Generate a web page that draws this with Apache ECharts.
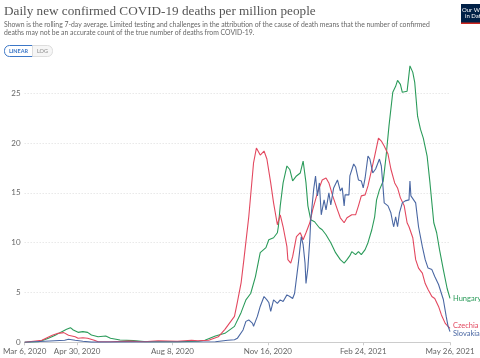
<!DOCTYPE html>
<html>
<head>
<meta charset="utf-8">
<script src="https://cdn.jsdelivr.net/npm/echarts@6/dist/echarts.min.js"></script>
<style>
html,body{margin:0;padding:0;background:#fff;}
#chart{width:480px;height:358px;}
</style>
</head>
<body>
<div id="chart"></div>
<script>
// Days since Mar 6, 2020
var xTickDays = [0, 55, 155, 255, 355, 446];
var xTickLabels = ['Mar 6, 2020', 'Apr 30, 2020', 'Aug 8, 2020', 'Nov 16, 2020', 'Feb 24, 2021', 'May 26, 2021'];
var yTicks = [0, 5, 10, 15, 20, 25];

var czechiaDays = [0, 18, 29, 35, 41, 46, 53, 56, 61, 66, 73, 77, 90, 110, 125, 140, 160, 175, 182, 193, 203, 210, 220, 223, 227, 230, 235, 240, 243, 247, 251, 254, 258, 261, 265, 268, 271, 275, 276, 279, 281, 285, 289, 292, 295, 299, 302, 307, 312, 316, 319, 323, 328, 331, 335, 338, 343, 347, 350, 353, 357, 360, 364, 367, 371, 374, 377, 381, 384, 388, 391, 394, 398, 401, 403, 405, 407, 410, 413, 417, 420, 423, 427, 430, 434, 437, 441, 446];
var czechiaVals = [0, 0.2, 0.7, 0.9, 0.97, 0.7, 0.55, 0.4, 0.45, 0.4, 0.2, 0.05, 0.05, 0.12, 0.05, 0.15, 0.1, 0.2, 0.15, 0.2, 0.55, 1.3, 2.6, 4.0, 6.0, 8.4, 12.6, 18.0, 19.5, 18.8, 19.2, 18.4, 16.0, 14.0, 11.8, 12.8, 11.6, 9.6, 8.3, 7.95, 8.6, 10.6, 11.0, 10.3, 11.0, 12.0, 13.3, 15.0, 16.3, 16.5, 16.0, 14.7, 13.3, 12.5, 12.0, 12.5, 12.8, 12.8, 13.7, 14.7, 14.8, 15.7, 17.4, 18.7, 20.5, 20.2, 19.7, 18.9, 17.4, 16.0, 15.5, 14.5, 13.7, 12.0, 11.6, 11.5, 10.5, 8.3, 7.45, 6.95, 5.9, 5.3, 4.6, 4.4, 3.6, 2.75, 1.9, 1.4];

var hungaryDays = [0, 15, 25, 32, 39, 44, 48, 51, 56, 61, 66, 70, 77, 85, 90, 100, 114, 128, 160, 182, 189, 200, 210, 220, 227, 232, 237, 242, 247, 253, 256, 261, 265, 266, 268, 271, 275, 278, 281, 285, 289, 292, 295, 297, 300, 304, 309, 312, 316, 321, 326, 331, 335, 338, 341, 343, 347, 350, 353, 357, 360, 364, 367, 369, 372, 376, 379, 382, 386, 389, 391, 394, 396, 398, 401, 404, 407, 409, 412, 415, 418, 422, 425, 429, 432, 435, 439, 443, 446];
var hungaryVals = [0, 0.05, 0.4, 0.7, 1.07, 1.3, 1.47, 1.24, 1.0, 1.07, 1.0, 0.73, 0.56, 0.63, 0.4, 0.23, 0.17, 0.05, 0.05, 0.1, 0.2, 0.63, 0.9, 1.6, 3.0, 4.26, 4.9, 6.6, 9.0, 9.5, 10.3, 10.5, 11.0, 11.6, 13.7, 16.0, 17.7, 17.35, 16.2, 16.7, 17.0, 18.2, 16.0, 13.7, 12.3, 12.1, 11.5, 11.3, 10.8, 10.0, 9.0, 8.3, 7.95, 8.3, 8.7, 9.1, 8.8, 9.1, 8.8, 9.3, 10.0, 11.3, 12.6, 14.3, 15.3, 16.2, 18.7, 21.7, 25.1, 25.7, 26.3, 25.9, 25.1, 24.9, 25.2, 27.75, 27.1, 26.1, 22.7, 21.4, 20.5, 18.7, 16.0, 12.0, 11.0, 9.3, 7.3, 5.4, 4.4];

var slovakiaDays = [0, 42, 46, 53, 61, 70, 200, 213, 220, 223, 229, 232, 235, 239, 240, 244, 247, 251, 254, 256, 258, 261, 265, 268, 271, 275, 278, 281, 283, 287, 290, 292, 294, 295, 297, 299, 300, 303, 305, 307, 309, 311, 314, 316, 319, 321, 324, 328, 331, 333, 335, 336, 340, 341, 345, 347, 350, 353, 355, 357, 360, 362, 365, 368, 372, 374, 376, 377, 381, 384, 386, 387, 389, 391, 393, 396, 399, 401, 403, 404, 405, 407, 410, 413, 417, 420, 423, 427, 430, 434, 435, 437, 439, 442, 444, 446];
var slovakiaVals = [0, 0.2, 0.3, 0.2, 0.1, 0.02, 0.05, 0.2, 0.25, 0.4, 1.24, 2.1, 2.25, 1.9, 1.6, 2.6, 3.6, 4.6, 4.26, 4.0, 3.1, 4.26, 3.9, 4.26, 4.1, 4.76, 4.6, 4.4, 4.9, 7.95, 10.6, 9.8, 7.95, 5.9, 7.5, 10.3, 12.3, 15.3, 16.7, 14.7, 16.0, 12.8, 14.3, 13.3, 15.0, 13.8, 15.5, 16.3, 15.2, 15.5, 13.7, 14.8, 14.8, 16.7, 17.9, 17.6, 16.3, 16.2, 15.5, 16.5, 18.7, 18.4, 17.0, 17.4, 18.4, 17.7, 15.3, 14.0, 13.7, 13.0, 12.0, 11.6, 12.6, 11.6, 13.0, 14.0, 14.2, 14.0, 14.3, 16.2, 14.7, 14.5, 14.0, 11.6, 9.6, 8.3, 7.45, 7.3, 6.6, 5.8, 5.6, 4.9, 4.3, 2.6, 1.6, 1.07];

function pairs(d, v) { return d.map(function (x, i) { return [x, v[i]]; }); }

var chart = echarts.init(document.getElementById('chart'), null, { renderer: 'canvas' });

function mkSeries(name, days, vals, color, offset) {
  return {
    name: name, type: 'line', data: pairs(days, vals), showSymbol: false, symbol: 'none',
    lineStyle: { width: 1.1, color: color }, itemStyle: { color: color },
    z: 3, animation: false,
    endLabel: {
      show: true, formatter: name, color: color, fontSize: 7.5, fontFamily: 'Lato, sans-serif',
      distance: 3, offset: offset
    }
  };
}

chart.setOption({
  animation: false,
  backgroundColor: '#fff',
  grid: { left: 15.4, right: 30, top: 63.4, bottom: 15.7, containLabel: false },
  xAxis: {
    type: 'value', min: 0, max: 446,
    axisLine: { show: true, lineStyle: { color: '#ccc', width: 1 } },
    axisTick: { show: true, length: 3, lineStyle: { color: '#ccc' }, customValues: xTickDays },
    axisLabel: {
      customValues: xTickDays, color: '#666', fontSize: 8, fontFamily: 'Lato, sans-serif', margin: 5,
      formatter: function (v) { var i = xTickDays.indexOf(v); return i >= 0 ? xTickLabels[i] : ''; }
    },
    splitLine: { show: false }
  },
  yAxis: {
    type: 'value', min: 0, max: 28, interval: 5,
    axisLine: { show: false }, axisTick: { show: false },
    axisLabel: {
      color: '#666', fontSize: 8, fontFamily: 'Lato, sans-serif', margin: 4, showMaxLabel: false,
      formatter: function (v) { return yTicks.indexOf(v) >= 0 ? String(v) : ''; }
    },
    splitLine: { show: true, showMaxLine: false, lineStyle: { color: '#ddd', type: [1, 2], width: 1 } }
  },
  series: [
    mkSeries('Hungary', hungaryDays, hungaryVals, '#2b9b5a', [0, 0]),
    mkSeries('Czechia', czechiaDays, czechiaVals, '#e3485f', [0, -3]),
    mkSeries('Slovakia', slovakiaDays, slovakiaVals, '#4a67a3', [0, 1.5])
  ],
  graphic: [
    { type: 'text', left: 4, top: 5, style: { text: 'Daily new confirmed COVID-19 deaths per million people', fill: '#555', font: '13.2px "Liberation Serif", "DejaVu Serif", serif' } },
    { type: 'text', left: 4, top: 21, style: { text: 'Shown is the rolling 7-day average. Limited testing and challenges in the attribution of the cause of death means that the number of confirmed', fill: '#666', font: '6.85px Lato, sans-serif' } },
    { type: 'text', left: 4, top: 29, style: { text: 'deaths may not be an accurate count of the true number of deaths from COVID-19.', fill: '#666', font: '6.85px Lato, sans-serif' } },
    { type: 'rect', shape: { x: 4.5, y: 45.5, width: 28, height: 11, r: [5, 0, 0, 5] }, style: { fill: '#fff', stroke: '#3c77c7', lineWidth: 1 } },
    { type: 'rect', shape: { x: 32.5, y: 45.5, width: 20, height: 11, r: [0, 5, 5, 0] }, style: { fill: '#f6f6f6', stroke: '#ddd', lineWidth: 1 } },
    { type: 'text', x: 18.5, y: 51, style: { text: 'LINEAR', fill: '#3c77c7', font: 'bold 5.5px Lato, sans-serif', align: 'center', verticalAlign: 'middle' } },
    { type: 'text', x: 42.5, y: 51, style: { text: 'LOG', fill: '#888', font: '5.5px Lato, sans-serif', align: 'center', verticalAlign: 'middle' } },
    { type: 'rect', shape: { x: 461, y: 4, width: 19, height: 20 }, style: { fill: '#002147' } },
    { type: 'rect', shape: { x: 461, y: 22.5, width: 19, height: 1.5 }, style: { fill: '#ce261e' } },
    { type: 'text', x: 462, y: 7, style: { text: 'Our World', fill: '#fff', font: '6px Lato, sans-serif' } },
    { type: 'text', x: 465, y: 13.5, style: { text: 'in Data', fill: '#fff', font: '6px Lato, sans-serif' } }
  ]
});
</script>
</body>
</html>
